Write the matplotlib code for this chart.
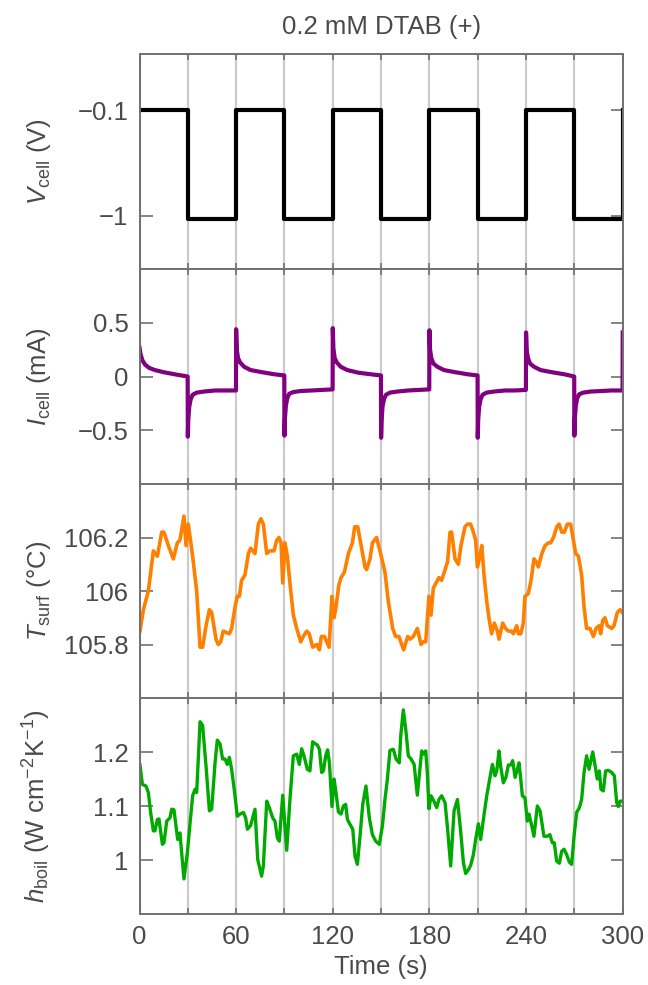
import matplotlib
matplotlib.use("Agg")
import matplotlib.pyplot as plt
from matplotlib.ticker import MultipleLocator, FixedLocator

plt.rcParams['font.family'] = ['Liberation Sans', 'DejaVu Sans']
plt.rcParams['mathtext.fontset'] = 'custom'
plt.rcParams['mathtext.rm'] = 'Liberation Sans'
plt.rcParams['mathtext.it'] = 'Liberation Sans:italic'

# ---------------- data ----------------
title = "0.2 mM DTAB (+)"
x_ticks = [0, 60, 120, 180, 240, 300]

# cell voltage: switching times and levels (post-step)
v_t = [0, 30, 60, 90, 120, 150, 180, 210, 240, 270, 300]
v_level = [-0.1, -1.03, -0.1, -1.03, -0.1, -1.03, -0.1, -1.03, -0.1, -1.03, -0.1]

# cell current (mA)
i_t = [0, 0.6, 1.8, 3.5, 6, 9.5, 15, 22, 29.9,
       30, 30.3, 30.9, 31.8, 33, 35.5, 40, 47, 53, 59.9,
       60, 60.4, 61.2, 62.5, 65, 69, 76, 84, 89.9,
       90, 90.3, 90.9, 91.8, 93, 95.5, 100, 107, 113, 119.9,
       120, 120.4, 121.2, 122.5, 125, 129, 136, 144, 149.9,
       150, 150.3, 150.9, 151.8, 153, 155.5, 160, 167, 173, 179.9,
       180, 180.4, 181.2, 182.5, 185, 189, 196, 204, 209.9,
       210, 210.3, 210.9, 211.8, 213, 215.5, 220, 227, 233, 239.9,
       240, 240.4, 241.2, 242.5, 245, 249, 256, 264, 269.9,
       270, 270.3, 270.9, 271.8, 273, 275.5, 280, 287, 293, 299.9,
       300]
i_val = [0.27, 0.21, 0.15, 0.11, 0.08, 0.06, 0.04, 0.02, 0.0,
         -0.56, -0.40, -0.28, -0.21, -0.17, -0.15, -0.14, -0.13, -0.13, -0.13,
         0.44, 0.25, 0.17, 0.13, 0.09, 0.06, 0.04, 0.02, 0.01,
         -0.55, -0.39, -0.27, -0.20, -0.16, -0.145, -0.135, -0.13, -0.125, -0.12,
         0.45, 0.26, 0.17, 0.13, 0.09, 0.06, 0.035, 0.02, 0.01,
         -0.57, -0.40, -0.28, -0.21, -0.17, -0.15, -0.14, -0.13, -0.125, -0.12,
         0.43, 0.25, 0.17, 0.12, 0.09, 0.06, 0.04, 0.02, 0.01,
         -0.57, -0.40, -0.28, -0.21, -0.17, -0.15, -0.14, -0.13, -0.13, -0.125,
         0.41, 0.24, 0.17, 0.12, 0.09, 0.06, 0.04, 0.02, 0.0,
         -0.55, -0.39, -0.27, -0.20, -0.165, -0.15, -0.14, -0.135, -0.13, -0.13,
         0.41]

# surface temperature (deg C)
T_t = [0.3, 2.4, 5.5, 8.6, 11.1, 13.8, 15.2, 17.9, 21, 23.5, 25.1, 27.6, 28.9, 30.3,
       33, 35.5, 37.6, 39.2, 41.3, 43.4, 44.8, 47.5, 48.9, 50.4, 52, 55.8, 57.2, 59.3,
       60.7, 62, 63.4, 65.5, 67.6, 69, 71.7, 73.8, 75.4, 76.9, 79, 81, 83.5, 85.2, 86.6,
       87.9, 88.9, 90.3, 91.8, 93.4, 95.5, 97.6, 100.1, 101.7, 103.8, 105.4, 107.5, 110,
       111.7, 112.9, 114.8, 116.2, 117.7, 119.5, 120.8, 122, 123.7, 125.1, 127.2, 129.7,
       132.2, 133.6, 135.5, 137.3, 140, 141, 143.1, 144.6, 147.2, 149.7, 152.4, 154.5,
       157.2, 159, 161.1, 162.2, 164, 166.5, 168, 170, 172.5, 174.8, 176.2, 177.7, 179.7,
       181, 182.4, 184.1, 185.9, 187.6, 189.7, 191.3, 192.8, 193.8, 195.9, 198, 199.6,
       202.1, 203.6, 205.6, 207.3, 208.7, 209.8, 211, 212.5, 213.9, 215.6, 217.2, 218.6,
       220.3, 222.2, 223.2, 225.5, 227.3, 229, 231, 232.1, 234.2, 235.2, 236.7, 238.3,
       239.3, 241.4, 243.1, 244.9, 246.2, 247.6, 249.8, 251.8, 253.9, 255.3, 257, 259.1,
       260.5, 262.2, 263.8, 265.6, 267.7, 269.4, 270.8, 272.5, 274.5, 276, 277.6, 279.7,
       281.8, 283.4, 285.3, 286.3, 287.6, 289, 290.5, 293.2, 294.6, 296.7, 298.4, 299.7]
T_val = [105.85, 105.93, 106.0, 106.15, 106.13, 106.22, 106.22, 106.17, 106.12, 106.18,
         106.19, 106.28, 106.17, 106.25, 106.13, 106.0, 105.79, 105.79, 105.87, 105.93,
         105.92, 105.82, 105.8, 105.81, 105.85, 105.84, 105.86, 105.94, 105.98, 105.98,
         106.04, 106.06, 106.14, 106.16, 106.14, 106.25, 106.27, 106.25, 106.14, 106.15,
         106.15, 106.19, 106.2, 106.18, 106.03, 106.18, 106.13, 106.03, 105.91, 105.86,
         105.81, 105.83, 105.85, 105.84, 105.79, 105.8, 105.78, 105.83, 105.83, 105.81,
         105.79, 105.98, 105.9, 105.94, 106.02, 106.05, 106.07, 106.14, 106.18, 106.24,
         106.24, 106.18, 106.09, 106.08, 106.12, 106.18, 106.2, 106.14, 106.07, 105.96,
         105.86, 105.83, 105.83, 105.81, 105.78, 105.83, 105.82, 105.83, 105.86, 105.8,
         105.81, 105.81, 105.98, 105.91, 106.01, 106.03, 106.05, 106.04, 106.08, 106.11,
         106.22, 106.22, 106.12, 106.1, 106.17, 106.24, 106.25, 106.25, 106.22, 106.19,
         106.09, 106.12, 106.17, 106.06, 105.96, 105.89, 105.84, 105.88, 105.85, 105.82,
         105.88, 105.86, 105.85, 105.85, 105.84, 105.87, 105.84, 105.84, 105.88, 105.98,
         105.99, 106.04, 106.12, 106.11, 106.09, 106.14, 106.17, 106.18, 106.18, 106.2,
         106.24, 106.25, 106.22, 106.22, 106.25, 106.25, 106.19, 106.14, 106.13, 106.06,
         105.94, 105.86, 105.86, 105.83, 105.86, 105.87, 105.84, 105.89, 105.9, 105.87,
         105.86, 105.87, 105.92, 105.93, 105.92]

# boiling heat transfer coefficient (W cm^-2 K^-1)
h_t = [0.3, 1.8, 4, 5.5, 6.9, 8.6, 9.6, 11.1, 12.1, 14.2, 15.2, 16.9, 18.9, 20, 21.4,
       23.7, 25.1, 27.6, 29.7, 31.4, 33, 34.5, 35.5, 37.6, 39.2, 41.3, 43.4, 44.8, 46.9,
       48.3, 50, 51.6, 53.1, 54.5, 55.8, 57.2, 59.3, 60.7, 62.4, 64.5, 65.9, 67, 69, 71.7,
       73.4, 75.8, 76.9, 79, 80.6, 82.7, 84.1, 85.6, 86.8, 88.9, 91.4, 93.4, 95.5, 97.6,
       99.2, 100.7, 102.1, 104.2, 105.8, 107.5, 109.2, 110.4, 111.7, 113.1, 114.2, 115.6,
       116.8, 117.9, 119.5, 120.8, 122, 123.5, 125.1, 126.6, 128, 129.1, 130.7, 132.4,
       133.8, 135.3, 136.9, 138.6, 140.6, 142.7, 144.6, 146.6, 148.9, 150.8, 152.4, 153.9,
       155.5, 157.6, 159.3, 161.3, 162.2, 163.8, 165.3, 166.9, 168.6, 170.5, 172.5, 173.5,
       175.2, 176.2, 177.7, 178.7, 179.7, 181, 182.8, 184.5, 185.9, 187.6, 189.7, 191.3,
       193.2, 195.3, 197.4, 199.5, 201.1, 202.5, 204.2, 205.6, 207.3, 208.7, 210.4, 211.8,
       213.5, 215.6, 217.6, 219.1, 220.7, 221.8, 223.2, 224.2, 225.9, 227.5, 229, 230.5,
       231.7, 233.2, 234.6, 235.6, 236.7, 237.7, 239.3, 240.8, 241.8, 243.1, 244.9, 247,
       248.7, 251.1, 253.2, 254.8, 256.3, 257.5, 259, 260.7, 262.1, 263.6, 265.2, 266.9,
       268.3, 269.8, 271.4, 273.1, 274.5, 276, 277.6, 279.1, 280.1, 281.4, 282.9, 284.2,
       285.5, 286.5, 288, 289.4, 291.1, 293.2, 294.8, 296.3, 297.3, 298.4, 299.7]
h_val = [1.176, 1.14, 1.137, 1.125, 1.088, 1.054, 1.054, 1.075, 1.076, 1.029, 1.032,
         1.072, 1.078, 1.094, 1.093, 1.038, 1.05, 0.965, 1.013, 1.069, 1.119, 1.131, 1.125,
         1.256, 1.249, 1.174, 1.091, 1.094, 1.18, 1.222, 1.215, 1.187, 1.187, 1.177, 1.19,
         1.168, 1.119, 1.081, 1.085, 1.088, 1.078, 1.057, 1.064, 1.094, 1.001, 0.97, 0.989,
         1.109, 1.097, 1.078, 1.072, 1.041, 1.035, 1.12, 1.018, 1.112, 1.193, 1.196, 1.177,
         1.206, 1.193, 1.168, 1.165, 1.219, 1.215, 1.213, 1.205, 1.162, 1.165, 1.193, 1.204,
         1.18, 1.099, 1.15, 1.125, 1.089, 1.085, 1.1, 1.103, 1.075, 1.066, 1.057, 1.007,
         0.992, 1.044, 1.103, 1.137, 1.078, 1.047, 1.035, 1.029, 1.063, 1.112, 1.15, 1.203,
         1.205, 1.187, 1.18, 1.23, 1.278, 1.242, 1.193, 1.187, 1.177, 1.12, 1.15, 1.202,
         1.196, 1.202, 1.162, 1.095, 1.119, 1.109, 1.097, 1.112, 1.119, 1.106, 1.057, 0.989,
         1.091, 1.112, 1.05, 0.995, 0.975, 0.982, 0.99, 1.01, 1.038, 1.067, 1.038, 1.075,
         1.119, 1.153, 1.177, 1.156, 1.165, 1.202, 1.174, 1.143, 1.153, 1.176, 1.176, 1.184,
         1.153, 1.168, 1.18, 1.15, 1.119, 1.115, 1.072, 1.085, 1.069, 1.044, 1.1, 1.091,
         1.044, 1.044, 1.047, 1.032, 1.032, 0.998, 0.994, 1.016, 1.02, 1.01, 0.996, 0.992,
         1.044, 1.088, 1.097, 1.112, 1.162, 1.193, 1.168, 1.182, 1.2, 1.174, 1.15, 1.165,
         1.131, 1.128, 1.165, 1.166, 1.162, 1.156, 1.106, 1.099, 1.109, 1.109]

# ---------------- styling ----------------
FS = 18.5
TXT = '#4a4a4a'
FRAME = '#707070'
GRID = '#cccccc'

fig = plt.figure(figsize=(6.48, 9.85), dpi=100)
W, H = 648.0, 985.0
left, right = 139.5, 622.7
edges_px = [54, 269, 484, 698, 914]

axes = []
for k in range(4):
    top, bot = edges_px[k], edges_px[k + 1]
    ax = fig.add_axes([left / W, 1 - bot / H, (right - left) / W, (bot - top) / H])
    axes.append(ax)

panels = [
    dict(ylim=(-1.454, 0.377), yticks=[-1, -0.1], ylabels=['\u22121', '\u22120.1'],
         label=r'$V_{\rm cell}$ (V)'),
    dict(ylim=(-1.0, 1.0), yticks=[-0.5, 0, 0.5], ylabels=['\u22120.5', '0', '0.5'],
         label=r'$I_{\rm cell}$ (mA)'),
    dict(ylim=(105.6, 106.4), yticks=[105.8, 106.0, 106.2], ylabels=['105.8', '106', '106.2'],
         label=r'$T_{\rm surf}$ ($\degree$C)'),
    dict(ylim=(0.9, 1.3), yticks=[1.0, 1.1, 1.2], ylabels=['1', '1.1', '1.2'],
         label=r'$h_{\rm boil}$ (W cm$^{-2}$K$^{-1}$)'),
]

for k, (ax, p) in enumerate(zip(axes, panels)):
    ax.set_xlim(0, 300)
    ax.set_ylim(*p['ylim'])
    ax.set_yticks(p['yticks'])
    ax.set_yticklabels(p['ylabels'])
    ax.xaxis.set_major_locator(FixedLocator(x_ticks))
    ax.xaxis.set_minor_locator(MultipleLocator(30))
    ax.grid(True, axis='x', which='both', color=GRID, lw=1.6)
    ax.set_axisbelow(True)
    for s in ax.spines.values():
        s.set_color(FRAME)
        s.set_linewidth(1.4)
    ax.tick_params(axis='y', which='both', direction='in', left=True, right=True,
                   length=9, width=1.2, color=FRAME, labelsize=FS, labelcolor=TXT, pad=8)
    ax.tick_params(axis='x', which='both', direction='in', top=True, bottom=True,
                   length=4, width=1.2, color=FRAME, labelsize=FS, labelcolor=TXT, pad=8)
    if k < 3:
        ax.tick_params(axis='x', labelbottom=False)
    ax.set_ylabel(p['label'], fontsize=FS, color=TXT)
    ax.yaxis.set_label_coords(-0.18, 0.5)

axes[0].step(v_t, v_level, where='post', color='black', lw=3.0)
axes[1].plot(i_t, i_val, color='#800080', lw=3.0)
axes[2].plot(T_t, T_val, color='#ff8000', lw=2.6)
axes[3].plot(h_t, h_val, color='#00aa00', lw=2.4)

axes[3].set_xlabel('Time (s)', fontsize=FS, color=TXT, labelpad=4)
fig.text((left + right) / 2 / W, 1 - 27 / H, title, ha='center', va='center',
         fontsize=FS, color=TXT)

fig.savefig('out.png', dpi=100)
